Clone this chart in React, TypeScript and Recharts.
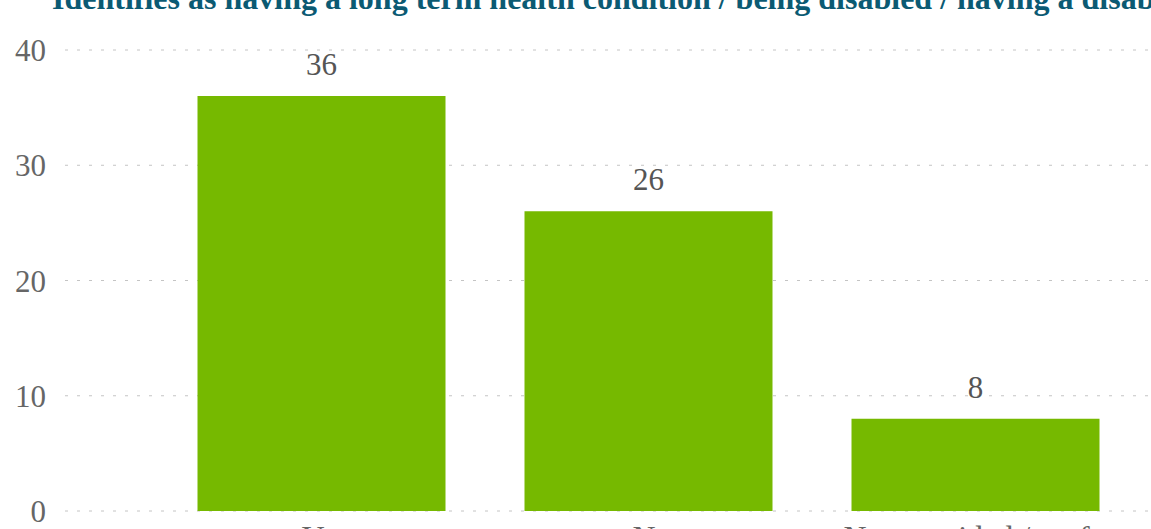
import React from "react";
import { BarChart, Bar, XAxis, YAxis, CartesianGrid, LabelList } from "recharts";

const categories = ["Yes", "No", "Not provided / prefer not to say"];
const counts = [36, 26, 8];
const yTicks = [0, 10, 20, 30, 40];
const title = "Identifies as having a long term health condition / being disabled / having a disability";

const data = categories.map((c, i) => ({ category: c, value: counts[i] }));

const FONT = "'Liberation Serif', 'Times New Roman', serif";

const wrapLabel = (s: string): string[] => {
  const words = s.split(" ");
  const lines: string[] = [];
  let cur = "";
  for (const w of words) {
    const next = cur ? cur + " " + w : w;
    if (next.length > 21 && cur) {
      lines.push(cur);
      cur = w;
    } else {
      cur = next;
    }
  }
  if (cur) lines.push(cur);
  return lines;
};

const XTick = (props: any) => {
  const { x, y, payload } = props;
  const lines = wrapLabel(String(payload.value));
  return (
    <text
      x={x + 4}
      y={y}
      textAnchor="middle"
      fontFamily={FONT}
      fontSize={32}
      fill="#666666"
    >
      {lines.map((l, i) => (
        <tspan key={i} x={x + 4} dy={i === 0 ? 22 : 36}>
          {l}
        </tspan>
      ))}
    </text>
  );
};

export default function App() {
  return (
    <div
      style={{
        position: "absolute",
        left: 0,
        top: 0,
        width: 1151,
        height: 529,
        overflow: "hidden",
        background: "#ffffff",
      }}
    >
      <BarChart
        width={1151}
        height={620}
        data={data}
        margin={{ top: 50, right: 0, bottom: 0, left: 0 }}
      >
        <CartesianGrid
          vertical={false}
          stroke="#c4c4c4"
          strokeWidth={1}
          strokeDasharray="3 9"
        />
        <XAxis
          dataKey="category"
          axisLine={false}
          tickLine={false}
          tickSize={0}
          tickMargin={15}
          height={109}
          padding={{ left: 92.5, right: 12.5 }}
          interval={0}
          tick={<XTick />}
        />
        <YAxis
          domain={[0, 40]}
          ticks={yTicks}
          width={65}
          axisLine={false}
          tickLine={false}
          tickSize={0}
          tickMargin={19}
          tick={{ fontFamily: FONT, fontSize: 31, fill: "#666666" }}
        />
        <Bar dataKey="value" fill="#76b900" barSize={248} isAnimationActive={false}>
          <LabelList
            dataKey="value"
            position="top"
            offset={21}
            style={{ fontFamily: FONT, fontSize: 31, fill: "#555555" }}
          />
        </Bar>
      </BarChart>
      <svg
        width={1151}
        height={40}
        style={{ position: "absolute", left: 0, top: 0, overflow: "visible" }}
      >
        <text
          x={52}
          y={9}
          fontFamily={FONT}
          fontWeight="bold"
          fontSize={32}
          fill="#0b5a73"
        >
          {title}
        </text>
      </svg>
    </div>
  );
}
